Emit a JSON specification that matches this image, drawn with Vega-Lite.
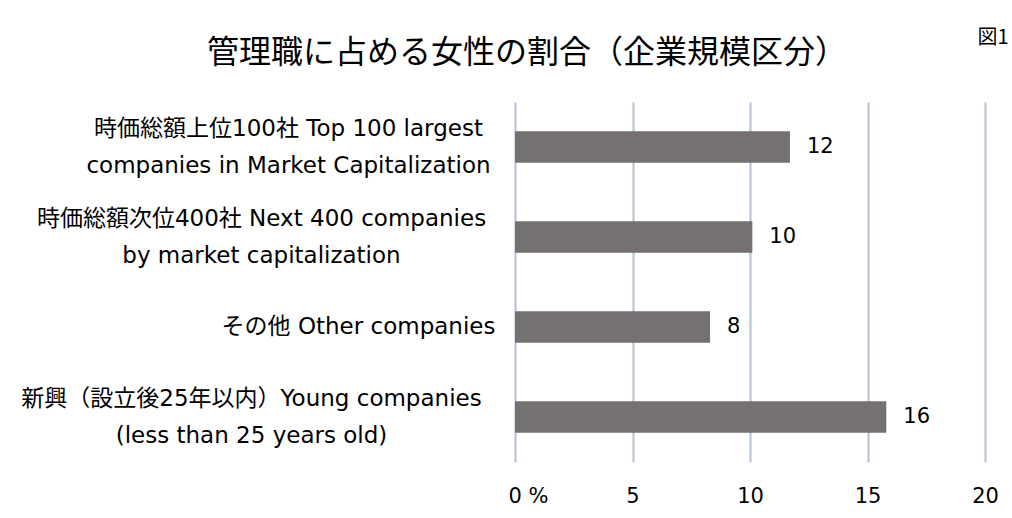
{
  "$schema": "https://vega.github.io/schema/vega-lite/v6.json",
  "width": 470,
  "height": 360,
  "autosize": "none",
  "padding": {"left": 515, "top": 102, "right": 27, "bottom": 56},
  "background": "white",
  "config": {"view": {"stroke": null}},
  "title": {
    "text": "管理職に占める女性の割合（企業規模区分）",
    "font": "Noto Sans CJK JP",
    "fontSize": 32,
    "fontWeight": "normal",
    "color": "#000000",
    "anchor": "middle",
    "frame": "group",
    "baseline": "alphabetic",
    "dx": -223,
    "dy": 72
  },
  "data": {
    "values": [
      {"category": "時価総額上位100社 Top 100 largest|companies in Market Capitalization", "value": 11.7},
      {"category": "時価総額次位400社 Next 400 companies|by market capitalization", "value": 10.1},
      {"category": "その他 Other companies", "value": 8.3},
      {"category": "新興（設立後25年以内）Young companies|(less than 25 years old)", "value": 15.8}
    ]
  },
  "encoding": {
    "y": {
      "field": "category",
      "type": "nominal",
      "sort": null,
      "scale": {"paddingInner": 0.65, "paddingOuter": 0.325},
      "axis": {
        "title": null,
        "domain": false,
        "ticks": false,
        "tickSize": 0,
        "labelFont": "DejaVu Sans, Noto Sans CJK JP",
        "labelFontSize": 23,
        "labelColor": "#000000",
        "labelLimit": 0,
        "labelAlign": "center",
        "labelBaseline": "middle",
        "labelLineHeight": 37,
        "labelExpr": "split(datum.label, '|')",
        "labelOffset": {
          "condition": {"test": "datum.value == 'その他 Other companies'", "value": 0},
          "value": -18
        },
        "labelPadding": {
          "condition": [
            {"test": "datum.value == '時価総額上位100社 Top 100 largest|companies in Market Capitalization'", "value": 227},
            {"test": "datum.value == '時価総額次位400社 Next 400 companies|by market capitalization'", "value": 254},
            {"test": "datum.value == 'その他 Other companies'", "value": 157},
            {"test": "datum.value == '新興（設立後25年以内）Young companies|(less than 25 years old)'", "value": 264}
          ],
          "value": 25
        }
      }
    }
  },
  "layer": [
    {
      "mark": {"type": "bar", "color": "#767171"},
      "encoding": {
        "x": {
          "field": "value",
          "type": "quantitative",
          "scale": {"domain": [0, 20], "nice": false},
          "axis": {
            "title": null,
            "orient": "bottom",
            "values": [0, 5, 10, 15, 20],
            "domain": false,
            "ticks": false,
            "tickSize": 0,
            "grid": true,
            "gridColor": "#b4c0d3",
            "gridWidth": 2,
            "labelFont": "DejaVu Sans",
            "labelFontSize": 21,
            "labelColor": "#000000",
            "labelBaseline": "alphabetic",
            "labelPadding": 40,
            "labelFlush": false,
            "labelExpr": "datum.value == 0 ? '0 %' : datum.label",
            "labelOffset": {"condition": {"test": "datum.value == 0", "value": 13}, "value": 0}
          }
        }
      }
    },
    {
      "mark": {"type": "text", "align": "left", "baseline": "middle", "dx": 17, "font": "DejaVu Sans", "fontSize": 21, "color": "#000000"},
      "encoding": {
        "x": {
          "field": "value",
          "type": "quantitative",
          "axis": {
            "orient": "top",
            "title": "図1",
            "labels": false,
            "ticks": false,
            "domain": false,
            "grid": false,
            "titleX": 462,
            "titleY": -59,
            "titleAlign": "left",
            "titleBaseline": "alphabetic",
            "titleAngle": 0,
            "titleFont": "Noto Sans CJK JP",
            "titleFontSize": 20,
            "titleFontWeight": "normal",
            "titleColor": "#000000"
          }
        },
        "text": {"field": "value", "type": "quantitative", "format": ".0f"}
      }
    }
  ],
  "resolve": {"axis": {"x": "independent"}}
}
